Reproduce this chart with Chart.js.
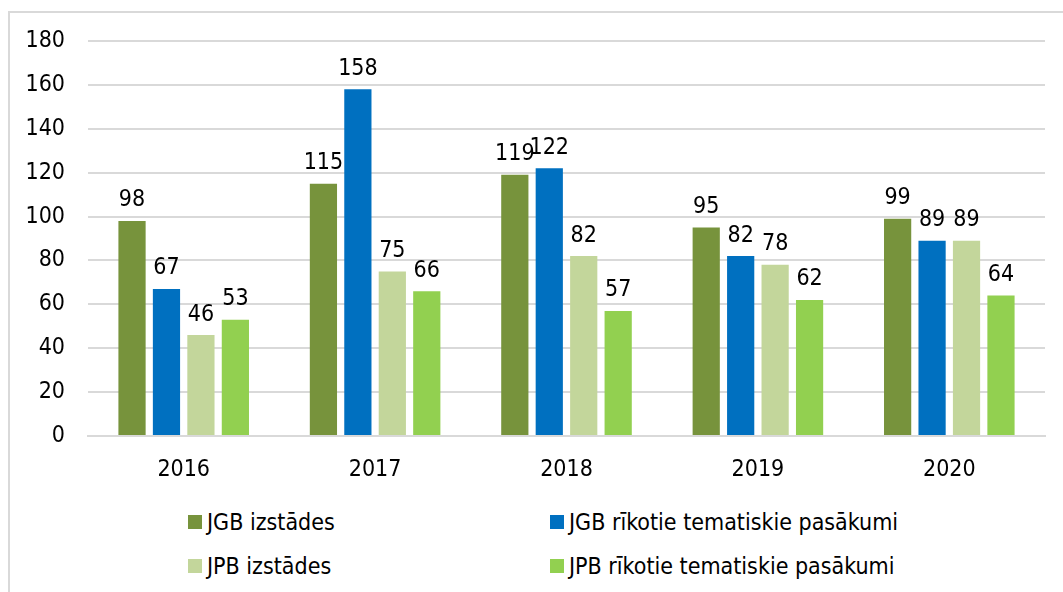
<!DOCTYPE html>
<html>
<head>
<meta charset="utf-8">
<script src="https://cdn.jsdelivr.net/npm/chart.js@4.4.0/dist/chart.umd.min.js"></script>
<style>
  body { margin: 0; background: #fff; }
  #wrap { position: relative; width: 1063px; height: 592px; overflow: hidden; font-family: "DejaVu Sans Condensed", "DejaVu Sans", sans-serif; }
  #frame { position: absolute; left: 8px; top: 11px; width: 1080px; height: 620px; border: 2px solid #D9D9D9; box-sizing: border-box; }
  #chartBox { position: absolute; left: 0; top: 0; width: 1063px; height: 500px; }
  #legend { position: absolute; left: 188px; top: 507px; display: grid; grid-template-columns: 362px auto; row-gap: 15px; font-size: 23px; color: #000; }
  .item { display: flex; align-items: center; height: 29px; }
  .sw { width: 14px; height: 14px; margin-right: 5px; }
</style>
</head>
<body>
<div id="wrap">
  <div id="frame"></div>
  <div id="chartBox"><canvas id="canvas"></canvas></div>
  <div id="legend"></div>
</div>
<script>
var years = ['2016', '2017', '2018', '2019', '2020'];
var jgbIzstades = [98, 115, 119, 95, 99];
var jgbPasakumi = [67, 158, 122, 82, 89];
var jpbIzstades = [46, 75, 82, 78, 89];
var jpbPasakumi = [53, 66, 57, 62, 64];
var seriesNames = ['JGB izstādes', 'JGB rīkotie tematiskie pasākumi', 'JPB izstādes', 'JPB rīkotie tematiskie pasākumi'];
var colors = ['#77933C', '#0070C0', '#C3D69B', '#92D050'];

var fontFamily = '"DejaVu Sans Condensed", "DejaVu Sans", sans-serif';

try {
    // labels on top of bars
    var valueLabels = {
        id: 'valueLabels',
        afterDatasetsDraw: function(chart) {
            var ctx = chart.ctx;
            ctx.save();
            ctx.font = '23px ' + fontFamily;
            ctx.fillStyle = '#000';
            ctx.textAlign = 'center';
            ctx.textBaseline = 'bottom';
            chart.data.datasets.forEach(function(ds, i) {
                chart.getDatasetMeta(i).data.forEach(function(bar, j) {
                    ctx.fillText(ds.data[j], bar.x, bar.y - 9);
                });
            });
            ctx.restore();
        }
    };

    var allData = [jgbIzstades, jgbPasakumi, jpbIzstades, jpbPasakumi];
    var ctx = document.getElementById('canvas').getContext('2d');
    var myChart = new Chart(ctx, {
        type: 'bar',
        data: {
            labels: years,
            datasets: allData.map(function(d, i) {
                return {
                    label: seriesNames[i],
                    data: d,
                    backgroundColor: colors[i],
                    barPercentage: 0.79,
                    categoryPercentage: 0.72
                };
            })
        },
        options: {
            responsive: true,
            maintainAspectRatio: false,
            animation: false,
            layout: { padding: { left: 0, right: 18, top: 41, bottom: 0 } },
            plugins: { legend: { display: false }, tooltip: { enabled: false } },
            scales: {
                x: {
                    grid: { display: false },
                    border: { display: true, color: '#D9D9D9', width: 2 },
                    ticks: { color: '#000', font: { family: fontFamily, size: 23 }, padding: 12 },
                    afterFit: function(s) { s.height = 64; }
                },
                y: {
                    min: 0, max: 180,
                    ticks: { stepSize: 20, color: '#000', font: { family: fontFamily, size: 23 }, padding: 23 },
                    grid: { color: '#D9D9D9', lineWidth: 2, drawTicks: false },
                    border: { display: false },
                    afterFit: function(s) { s.width = 88; }
                }
            }
        },
        plugins: [valueLabels]
    });

    var legend = document.getElementById('legend');
    seriesNames.forEach(function(name, i) {
        var div = document.createElement('div');
        div.className = 'item';
        div.innerHTML = '<span class="sw" style="background:' + colors[i] + '"></span><span>' + name + '</span>';
        legend.appendChild(div);
    });
} catch(e) {
    console.log(e.message);
}
</script>
</body>
</html>
